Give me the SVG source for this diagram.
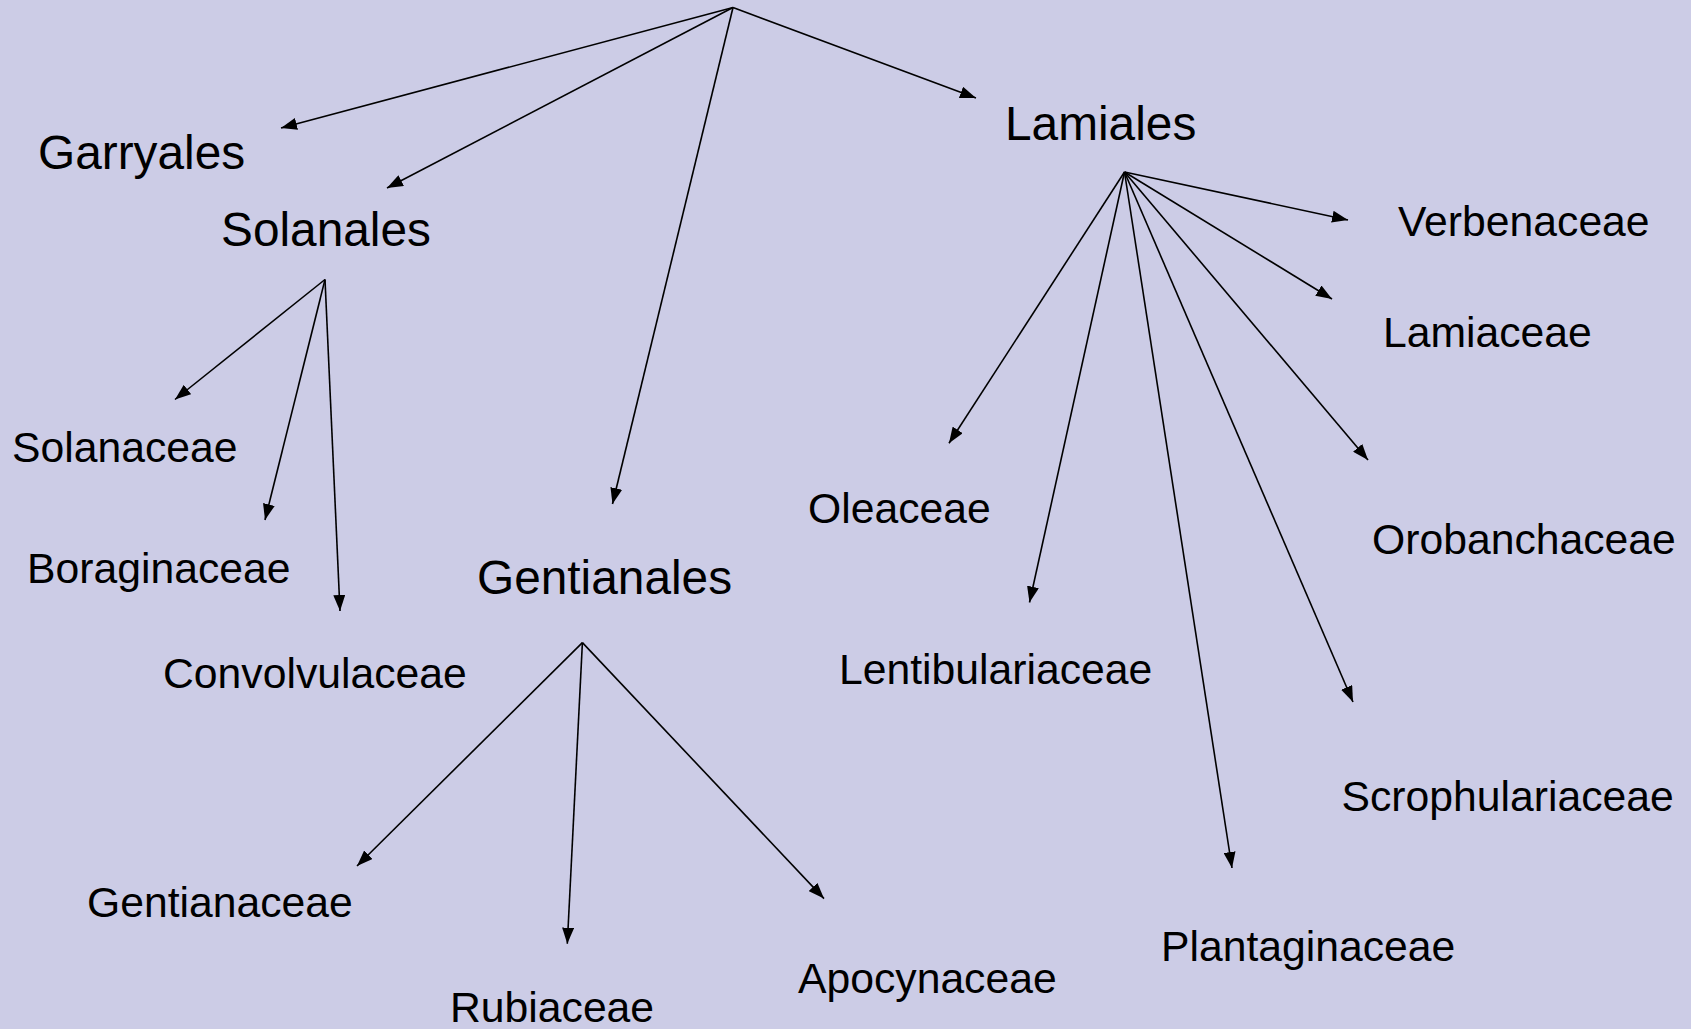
<svg xmlns="http://www.w3.org/2000/svg" width="1691" height="1029" viewBox="0 0 1691 1029">
<style>
.bg{fill:#CCCCE6}
.edge{stroke:#000;stroke-width:1.6;fill:none;marker-end:url(#ah)}
.ord{font-family:"Liberation Sans",Arial,sans-serif;font-size:47.8px;fill:#000}
.fam{font-family:"Liberation Sans",Arial,sans-serif;font-size:42.7px;fill:#000}
</style>
<defs>
<marker id="ah" markerUnits="userSpaceOnUse" markerWidth="16" markerHeight="12" viewBox="0 0 16 12" refX="16" refY="6" orient="auto">
<path d="M0,0 L16,6 L0,12 Z" fill="#000"/>
</marker>
</defs>
<rect class="bg" x="0" y="0" width="1691" height="1029"/>
<g id="connectors">
<line class="edge" x1="733" y1="7.5" x2="281" y2="128"/>
<line class="edge" x1="733" y1="7.5" x2="387" y2="188"/>
<line class="edge" x1="733" y1="7.5" x2="612.5" y2="504"/>
<line class="edge" x1="733" y1="7.5" x2="976" y2="98"/>
<line class="edge" x1="325" y1="279.5" x2="175" y2="399.5"/>
<line class="edge" x1="325" y1="279.5" x2="265" y2="520"/>
<line class="edge" x1="325" y1="279.5" x2="340" y2="611"/>
<line class="edge" x1="582.4" y1="642.6" x2="357" y2="866"/>
<line class="edge" x1="582.4" y1="642.6" x2="567.3" y2="943.7"/>
<line class="edge" x1="582.4" y1="642.6" x2="824" y2="898.6"/>
<line class="edge" x1="1124.5" y1="172" x2="1348" y2="220"/>
<line class="edge" x1="1124.5" y1="172" x2="1332" y2="299"/>
<line class="edge" x1="1124.5" y1="172" x2="1368" y2="460"/>
<line class="edge" x1="1124.5" y1="172" x2="1353" y2="702"/>
<line class="edge" x1="1124.5" y1="172" x2="1232" y2="868"/>
<line class="edge" x1="1124.5" y1="172" x2="1029.5" y2="602.5"/>
<line class="edge" x1="1124.5" y1="172" x2="949" y2="443.3"/>
</g>
<g id="garryales"><text class="ord" x="38" y="169">Garryales</text></g>
<g id="solanales"><text class="ord" x="221" y="246">Solanales</text></g>
<g id="lamiales"><text class="ord" x="1005" y="140">Lamiales</text></g>
<g id="gentianales"><text class="ord" x="477" y="594">Gentianales</text></g>
<g id="solanaceae"><text class="fam" x="12" y="462">Solanaceae</text></g>
<g id="boraginaceae"><text class="fam" x="27" y="583">Boraginaceae</text></g>
<g id="convolvulaceae"><text class="fam" x="163" y="688">Convolvulaceae</text></g>
<g id="gentianaceae"><text class="fam" x="87" y="917">Gentianaceae</text></g>
<g id="rubiaceae"><text class="fam" x="450" y="1022">Rubiaceae</text></g>
<g id="apocynaceae"><text class="fam" x="798" y="993">Apocynaceae</text></g>
<g id="verbenaceae"><text class="fam" x="1398" y="236">Verbenaceae</text></g>
<g id="lamiaceae"><text class="fam" x="1383" y="347">Lamiaceae</text></g>
<g id="oleaceae"><text class="fam" x="808" y="523">Oleaceae</text></g>
<g id="orobanchaceae"><text class="fam" x="1372" y="554">Orobanchaceae</text></g>
<g id="lentibulariaceae"><text class="fam" x="839" y="684">Lentibulariaceae</text></g>
<g id="scrophulariaceae"><text class="fam" x="1341.5" y="811">Scrophulariaceae</text></g>
<g id="plantaginaceae"><text class="fam" x="1161" y="961">Plantaginaceae</text></g>
</svg>
